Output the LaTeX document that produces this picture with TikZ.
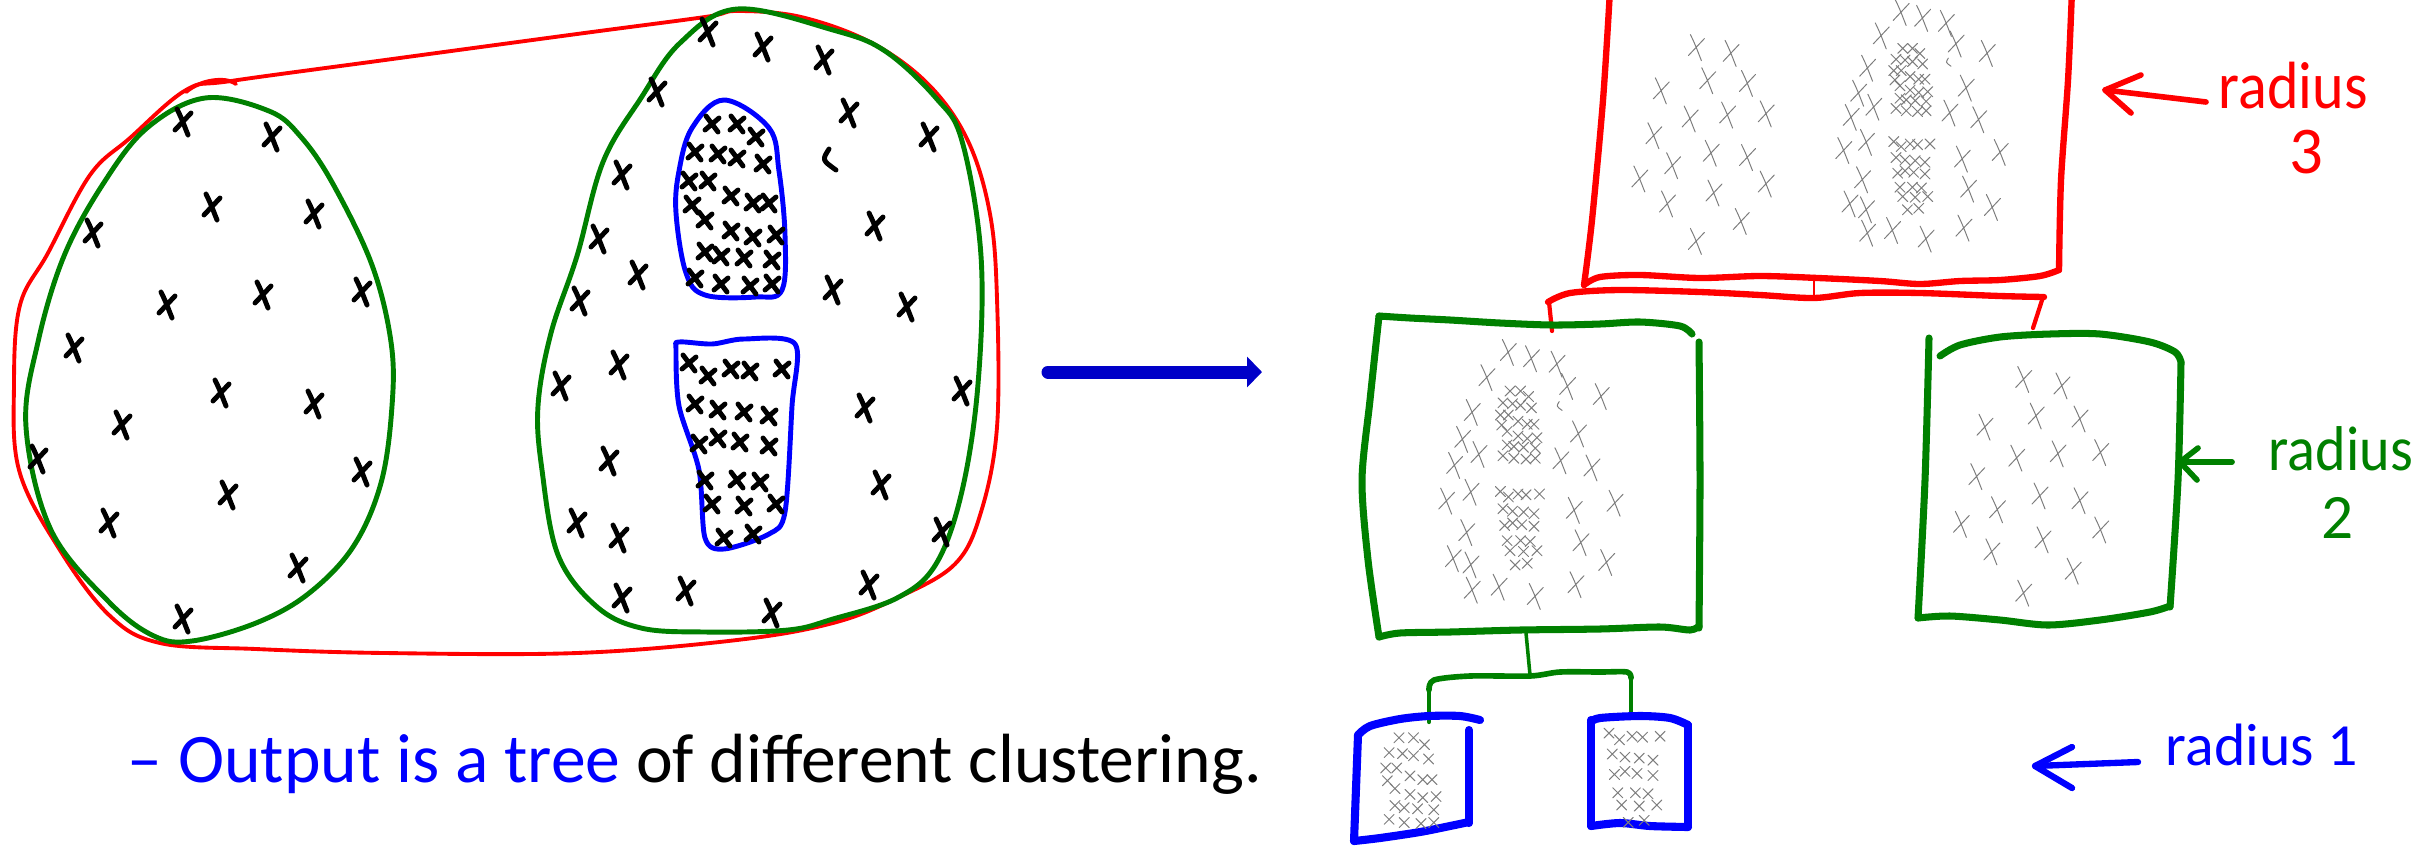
\documentclass[tikz,border=0pt]{standalone}
\usepackage{fontspec}
\setmainfont{Carlito}
\usetikzlibrary{arrows.meta}
\definecolor{hred}{RGB}{255,0,0}
\definecolor{hgreen}{RGB}{0,128,0}
\definecolor{hblue}{RGB}{0,0,255}
\definecolor{navy}{RGB}{0,0,200}
\definecolor{pencil}{RGB}{125,125,125}
\newcommand\leftXs{183/122, 272/137, 212/207, 314/214, 93/233, 167/305, 263/295, 362/292, 74/348, 221/393, 314/404, 122/425, 38/459, 362/472, 228/495, 109/523, 298/568, 183/619}
\newcommand\rightXs{708/32, 763/47, 824/60, 657/92, 849/113, 929/137, 622/175, 875/226, 599/239, 638/275, 580/301, 833/290, 907/307, 619/365, 561/386, 962/391, 865/408, 609/461, 881/485, 577/523, 619/538, 942/532, 622/598, 686/591, 772/613, 869/585}
\newcommand\blueAXs{712/124, 737/124, 756/137, 695/152, 718/154, 737/158, 763/164, 689/181, 708/181, 731/196, 753/203, 769/203, 692/205, 705/220, 731/231, 753/237, 776/235, 705/252, 721/256, 744/258, 772/260, 695/278, 721/284, 750/286, 772/284}
\newcommand\blueBXs{689/363, 708/376, 731/369, 750/371, 782/369, 695/404, 718/410, 744/412, 769/416, 699/444, 718/438, 740/442, 769/446, 705/480, 737/480, 760/482, 712/504, 744/506, 776/504, 724/538, 753/534}
\newcommand\drawXs[2]{\foreach \a/\b in #1 {\pic at (\a,\b) {#2};}}
\newcommand\leftcluster{\drawXs\leftXs{bx}}
\newcommand\rightcluster{\drawXs\rightXs{bx}\drawXs\blueAXs{sx}\drawXs\blueBXs{sx}%
  \draw[xstyle] (829,149) .. controls (822,160) .. (836,170);}
\begin{document}
\begin{tikzpicture}[x=0.01cm,y=-0.01cm,line cap=round,line join=round,
  xstyle/.style={black,line width=1.4pt},
  mini/.style={pencil,line width=0.28pt},
  bx/.pic={\draw[xstyle] (-6,-13) .. controls (-1,-3) and (1,3) .. (5,13) (8,-9) -- (-8,8);},
  sx/.pic={\draw[xstyle] (-6,-8) -- (6,8) (7,-6) -- (-7,6);},
  minisx/.style={sx/.pic={\draw[xstyle] (-5,-5) -- (5,5) (5,-5) -- (-5,5);}},
  redpen/.style={hred,line width=1.1pt},
  greenpen/.style={hgreen,line width=1.4pt},
  bluepen/.style={hblue,line width=1.4pt},
  redbox/.style={hred,line width=1.8pt},
  greenbox/.style={hgreen,line width=2pt},
  bluebox/.style={hblue,line width=2.3pt},
  lab/.style={inner sep=0pt,font=\fontsize{19}{22}\selectfont}]
\useasboundingbox (0,0) rectangle (2422,845);
\clip (0,0) rectangle (2422,845);

% ---------- left drawing ----------
\draw[redpen] plot[smooth cycle,tension=0.6] coordinates {(186,90) (231,81) (385,60) (577,34) (705,17) (737,11) (801,17) (872,43) (929,85) (968,141) (990,214) (997,299) (997,427) (981,512) (955,564) (897,598) (833,623) (737,640) (577,653) (385,653) (256,649) (160,643) (109,615) (58,547) (19,470) (14,384) (20,305) (48,253) (90,175) (130,138)};
\draw[redpen] (186,92) .. controls (200,80) and (225,76) .. (236,84);
\draw[greenpen] plot[smooth cycle,tension=0.6] coordinates {(205,98) (269,111) (301,137) (333,184) (372,265) (391,342) (392,406) (381,483) (353,547) (308,594) (256,623) (192,641) (154,636) (109,602) (51,530) (26,427) (38,342) (64,256) (103,184) (147,128)};
\draw[greenpen] plot[smooth cycle,tension=0.6] coordinates {(737,9) (833,30) (885,51) (936,98) (962,141) (981,256) (978,384) (962,491) (936,564) (897,598) (833,619) (788,630) (705,632) (641,628) (596,606) (558,555) (542,470) (538,406) (551,333) (577,256) (603,162) (641,98) (680,43)};
\draw[bluepen] plot[smooth cycle,tension=0.6] coordinates {(724,100) (769,128) (779,171) (785,235) (782,290) (756,297) (705,295) (686,273) (676,213) (679,171) (692,128)};
\draw[bluepen] plot[smooth cycle,tension=0.5] coordinates {(679,342) (712,344) (744,339) (795,344) (792,406) (785,512) (769,534) (724,549) (705,538) (699,470) (679,406) (676,350)};
\leftcluster
\rightcluster

% ---------- big arrow ----------
\coordinate (arrS) at (1048,372);
\coordinate (arrE) at (1262,372);
\draw[navy,line width=3.7pt,-{Triangle[length=0.15cm,width=0.3cm]}] (arrS) -- (arrE);

% ---------- red box (radius 3) ----------
\draw[redbox] plot[smooth,tension=0.5] coordinates {(1610,-10) (1603,100) (1592,220) (1584,285)};
\draw[redbox] plot[smooth,tension=0.5] coordinates {(1584,285) (1600,277) (1640,275) (1700,278) (1760,276) (1818,278) (1880,281) (1920,284) (1960,281) (2000,280) (2040,276) (2059,270)};
\draw[redbox] plot[smooth,tension=0.5] coordinates {(2059,270) (2061,180) (2068,80) (2072,-10)};
\begin{scope}[shift={(1625,0)},scale=0.39,xstyle/.style={mini},minisx]
  \leftcluster
  \rightcluster
\end{scope}
\coordinate (rc1) at (1814,276);
\coordinate (rc2) at (1814,297);
\draw[hred,line width=0.8pt] (rc1) -- (rc2);
\draw[redbox] plot[smooth,tension=0.5] coordinates {(1548,302) (1570,293) (1620,290) (1700,292) (1760,295) (1814,298) (1860,293) (1920,293) (2000,296) (2044,297)};
\draw[hred,line width=1.2pt] (1549,302) -- (1552,331);
\draw[hred,line width=1.2pt] (2043,297) -- (2033,328);

% ---------- green big box ----------
\draw[greenbox] plot[smooth,tension=0.5] coordinates {(1379,316) (1410,318) (1450,320) (1500,323) (1552,325) (1600,324) (1640,322) (1680,326) (1692,334)};
\draw[greenbox] plot[smooth,tension=0.5] coordinates {(1379,316) (1370,400) (1362,480) (1368,560) (1379,637)};
\draw[greenbox] plot[smooth,tension=0.5] coordinates {(1699,342) (1700,480) (1699,628)};
\draw[greenbox] plot[smooth,tension=0.5] coordinates {(1379,637) (1400,633) (1450,632) (1520,630) (1600,629) (1660,627) (1690,630) (1699,626)};
\begin{scope}[shift={(1211,339)},scale=0.42,xstyle/.style={mini},minisx]
  \rightcluster
\end{scope}

% ---------- green small box ----------
\draw[greenbox] plot[smooth,tension=0.5] coordinates {(1940,356) (1960,345) (2000,337) (2050,334) (2100,334) (2150,342) (2175,352) (2181,362)};
\draw[greenbox] plot[smooth,tension=0.5] coordinates {(1929,338) (1925,480) (1918,618)};
\draw[greenbox] plot[smooth,tension=0.5] coordinates {(2181,362) (2178,480) (2170,607)};
\draw[greenbox] plot[smooth,tension=0.5] coordinates {(1918,618) (1950,616) (2000,620) (2048,625) (2100,620) (2150,612) (2170,606)};
\begin{scope}[shift={(1945,327)},scale=0.43,xstyle/.style={mini}]
  \leftcluster
\end{scope}

% ---------- green connector ----------
\draw[hgreen,line width=1pt] (1526,633) -- (1530,675);
\draw[hgreen,line width=1.6pt] plot[smooth,tension=0.5] coordinates {(1429,690) (1434,680) (1470,676) (1530,676) (1560,672) (1600,672) (1627,672) (1631,678)};
\draw[hgreen,line width=1.2pt] (1429,685) -- (1429,722);
\draw[hgreen,line width=1.2pt] (1631,675) -- (1631,712);

% ---------- blue boxes ----------
\draw[bluebox] plot[smooth,tension=0.5] coordinates {(1358,735) (1370,726) (1400,719) (1429,716) (1460,716) (1480,720)};
\draw[bluebox] (1358,735) -- (1354,841);
\draw[bluebox] (1469,730) -- (1469,823);
\draw[bluebox] plot[smooth,tension=0.5] coordinates {(1354,841) (1380,838) (1420,832) (1450,826) (1469,822)};
\begin{scope}[shift={(986,672)},xscale=0.58,yscale=0.53,xstyle/.style={mini},minisx]
  \drawXs\blueAXs{sx}
\end{scope}
\draw[bluebox] plot[smooth,tension=0.5] coordinates {(1591,722) (1600,718) (1640,716) (1670,718) (1688,725)};
\draw[bluebox] (1591,720) -- (1591,826);
\draw[bluebox] (1688,725) -- (1688,827);
\draw[bluebox] plot[smooth,tension=0.5] coordinates {(1591,826) (1620,823) (1650,826) (1688,827)};
\begin{scope}[shift={(1230,548)},xscale=0.55,yscale=0.51,xstyle/.style={mini},minisx]
  \drawXs\blueBXs{sx}
\end{scope}

% ---------- labels ----------
\coordinate (a3tip) at (2105,90);
\coordinate (a3tail) at (2206,102);
\draw[hred,line width=1.6pt] (a3tail) -- (a3tip);
\draw[hred,line width=1.6pt] (a3tip) ++(36,-15) -- (a3tip) -- ++(26,23);
\node[lab,text=hred,anchor=base west,xscale=0.9] (r3) at (2218,108) {radius};
\node[lab,text=hred,anchor=base] (r3n) at (2306,173) {3};

\coordinate (a2tip) at (2180,462);
\coordinate (a2tail) at (2232,462);
\draw[hgreen,line width=1.6pt] (a2tail) -- (a2tip);
\draw[hgreen,line width=1.6pt] (a2tip) ++(18,-14) -- (a2tip) -- ++(17,18);
\node[lab,text=hgreen,anchor=base west,xscale=0.92,font=\fontsize{18}{21}\selectfont] (r2) at (2268,470) {radius};
\node[lab,text=hgreen,anchor=base,font=\fontsize{18}{21}\selectfont] (r2n) at (2337,538) {2};

\coordinate (a1tip) at (2035,766);
\coordinate (a1tail) at (2138,762);
\draw[hblue,line width=1.8pt] (a1tail) -- (a1tip);
\draw[hblue,line width=1.8pt] (a1tip) ++(37,-19) -- (a1tip) -- ++(37,22);
\node[lab,text=hblue,anchor=base west,font=\fontsize{17}{20}\selectfont] (r1) at (2165,765) {radius 1};

% ---------- bottom text ----------
\node[inner sep=0pt,anchor=base west,font=\fontsize{19.8}{24}\selectfont] (txt) at (127,782) {\textcolor{hblue}{– Output is a tree} of different clustering.};
\end{tikzpicture}
\end{document}
